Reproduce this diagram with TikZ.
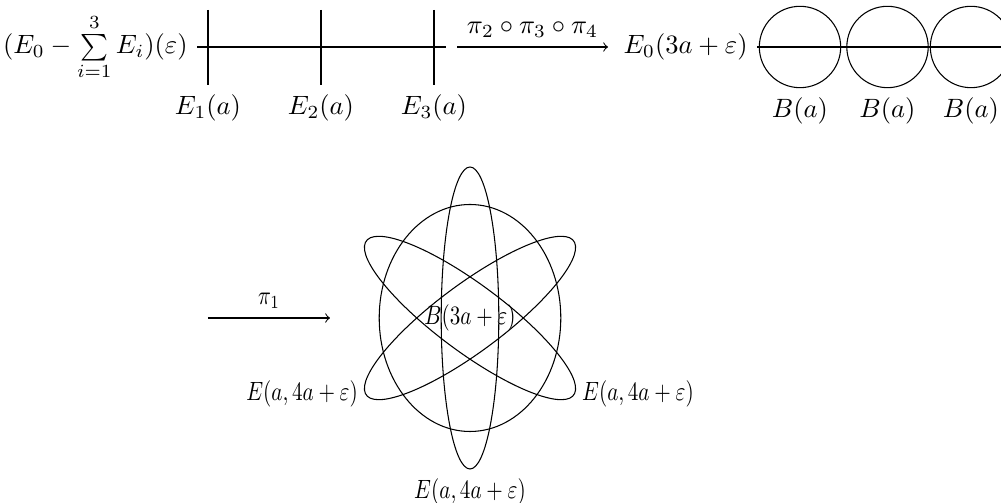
\documentclass[tikz,border=0pt]{standalone}
\usepackage{amsmath}
\begin{document}
\begin{tikzpicture}[x=0.3773pt,y=0.3773pt,line width=0.4pt,
  conn/.style={->},
  ball/.style={circle,draw,minimum size=30.7pt,inner sep=0pt}]
\useasboundingbox (0,0) rectangle (1001,-503);
% ---------- top left: line with three exceptional curves
\coordinate (hs) at (197,-47);
\coordinate (he) at (446,-47);
\node[anchor=east] (src) at (hs) {$(E_0-\sum\limits_{i=1}^{3}E_i)(\varepsilon)$};
\draw (src.east) -- (he);
\foreach \i/\x in {1/208,2/321,3/434}{
  \coordinate (v\i t) at (\x,-10);
  \node[anchor=north] (l\i) at (\x,-85) {$E_\i(a)$};
  \draw (v\i t) -- (l\i.north);
}
% ---------- top arrow
\coordinate (as) at (457,-47);
\coordinate (ae) at (608,-47);
\draw[conn] (as) -- node[above] (alab) {$\pi_2\circ\pi_3\circ\pi_4$} (ae);
% ---------- top right: line with three balls
\node[anchor=east] (e0) at (757,-47) {$E_0(3a+\varepsilon)$};
\coordinate (lend) at (1020,-47);
\node[ball] (b1) at (800,-47) {};
\node[ball] (b2) at (887.5,-47) {};
\node[ball] (b3) at (971,-47) {};
\draw (e0.east) -- (lend);
\foreach \i in {1,2,3}{
  \node[anchor=north] (bl\i) at (b\i.south) {$B(a)$};
}
% ---------- bottom picture (horizontally compressed)
\begin{scope}[shift={(470,-318)},xscale=0.8,transform shape]
  \draw (0,0) ellipse [x radius=113.5, y radius=113.5];
  \draw (0,0) ellipse [x radius=36, y radius=151];
  \draw[rotate=60] (0,0) ellipse [x radius=36, y radius=151];
  \draw[rotate=-60] (0,0) ellipse [x radius=36, y radius=151];
  \node (bc) at (0,0) {$B(3a+\varepsilon)$};
  \coordinate (tipL) at (-130.8,-75.5);
  \coordinate (tipR) at (130.8,-75.5);
  \coordinate (tipB) at (0,-151);
  \node[anchor=east] (eL) at (tipL) {$E(a,4a+\varepsilon)$};
  \node[anchor=west] (eR) at (tipR) {$E(a,4a+\varepsilon)$};
  \node[anchor=north] (eB) at (tipB) {$E(a,4a+\varepsilon)$};
  \coordinate (ps) at (-327.5,0);
  \coordinate (pe) at (-175,0);
  \draw[conn] (ps) -- node[above] (plab) {$\pi_1$} (pe);
\end{scope}
\end{tikzpicture}
\end{document}
